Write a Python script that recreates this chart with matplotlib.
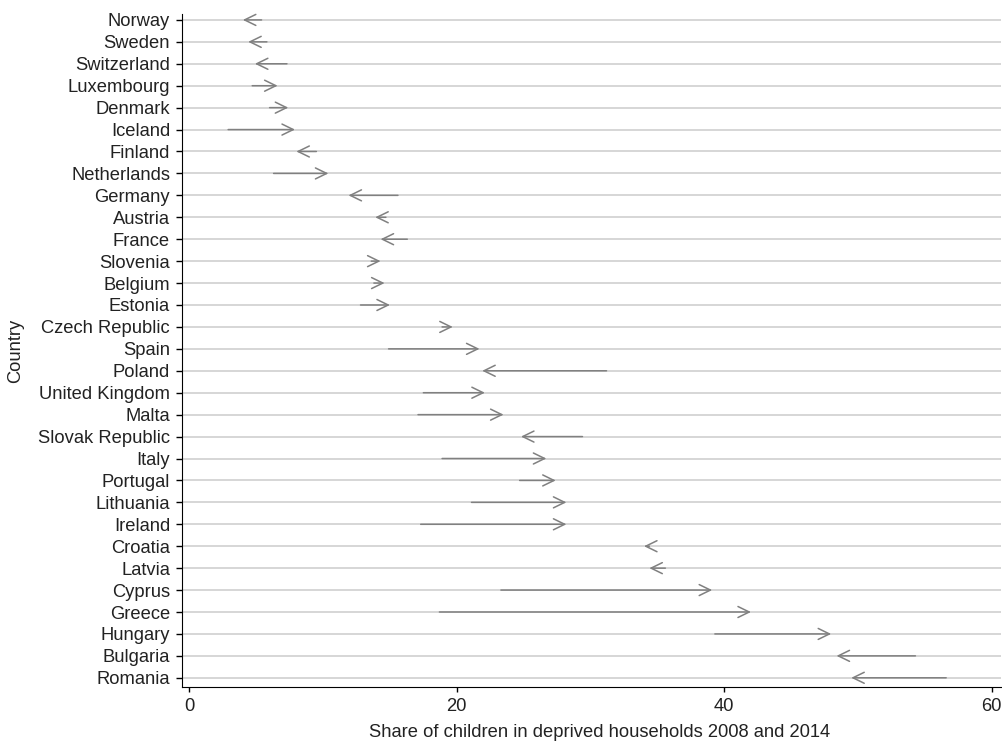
import matplotlib.pyplot as plt

plt.rcParams['font.family'] = ['Liberation Sans', 'DejaVu Sans']

# countries, top to bottom
countries = ['Norway', 'Sweden', 'Switzerland', 'Luxembourg', 'Denmark', 'Iceland',
             'Finland', 'Netherlands', 'Germany', 'Austria', 'France', 'Slovenia',
             'Belgium', 'Estonia', 'Czech Republic', 'Spain', 'Poland', 'United Kingdom',
             'Malta', 'Slovak Republic', 'Italy', 'Portugal', 'Lithuania', 'Ireland',
             'Croatia', 'Latvia', 'Cyprus', 'Greece', 'Hungary', 'Bulgaria', 'Romania']

# share of children in deprived households (%)
v2008 = [5.4, 5.8, 7.3, 4.7, 6.0, 2.9, 9.5, 6.3, 15.6, 14.7, 16.3, 13.6,
         13.8, 12.8, 18.9, 14.9, 31.2, 17.5, 17.1, 29.4, 18.9, 24.7, 21.1, 17.3,
         34.4, 35.6, 23.3, 18.7, 39.3, 54.3, 56.6]
v2014 = [4.0, 4.4, 4.9, 6.6, 7.4, 7.9, 8.0, 10.4, 11.9, 13.9, 14.3, 14.3,
         14.6, 15.0, 19.7, 21.7, 21.9, 22.1, 23.5, 24.8, 26.7, 27.4, 28.2, 28.2,
         34.0, 34.4, 39.1, 42.0, 48.0, 48.4, 49.5]

fs = 13.2
n = len(countries)
fig = plt.figure(figsize=(10.03, 7.41), dpi=100)
ax = fig.add_axes([182 / 1003, 1 - 687 / 741, (1001 - 182) / 1003, (687 - 14) / 741])

ypos = list(range(n))
for y in ypos:
    ax.axhline(y, color='#d6d6d6', lw=1.4, zorder=0)

for y, a, b in zip(ypos, v2008, v2014):
    ax.annotate('', xy=(b, y), xytext=(a, y),
                arrowprops=dict(arrowstyle='->, head_length=0.45, head_width=0.22',
                                color='#808080', lw=1.1, shrinkA=0, shrinkB=0,
                                mutation_scale=18))

ax.set_xlim(-0.55, 60.7)
ax.set_ylim(n - 1 + 0.42, -0.27)
ax.set_yticks(ypos)
ax.set_yticklabels(countries, fontsize=fs, color='#222222')
ax.set_xticks([0, 20, 40, 60])
ax.tick_params(axis='x', labelsize=fs, labelcolor='#222222', length=3.8, width=1, pad=4.3)
ax.tick_params(axis='y', length=4.3, width=1, pad=4.3)
ax.spines['top'].set_visible(False)
ax.spines['right'].set_visible(False)
ax.set_xlabel('Share of children in deprived households 2008 and 2014', fontsize=fs, color='#222222')
ax.set_ylabel('Country', fontsize=fs, color='#222222')
ax.xaxis.set_label_coords(0.51, -0.055)
ax.yaxis.set_label_coords(-0.193, 0.5)

fig.savefig('out.png', dpi=100)
